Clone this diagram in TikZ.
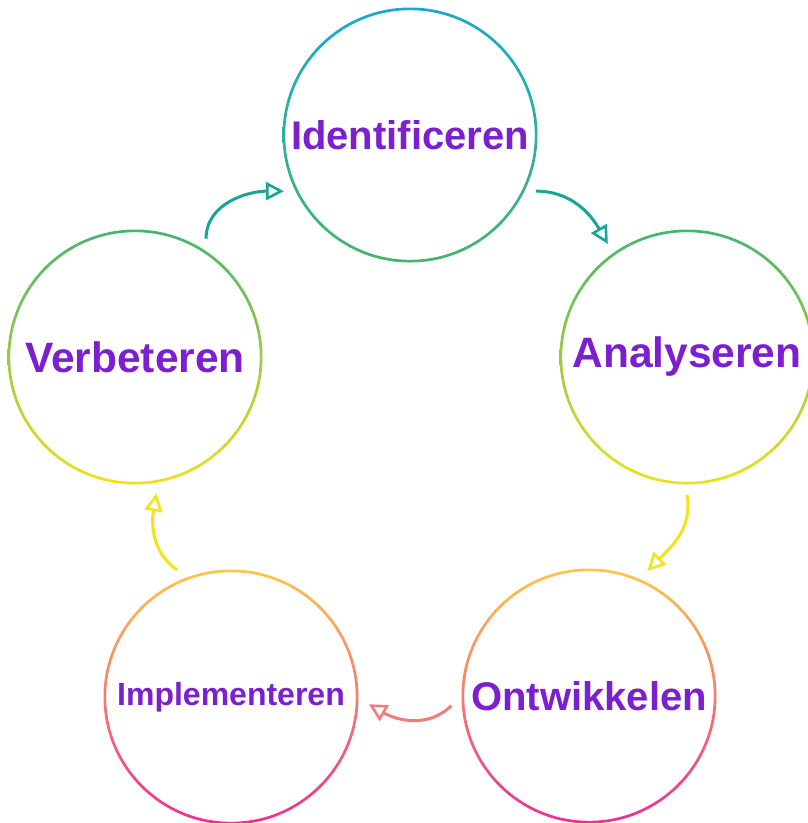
\documentclass[tikz,border=0pt]{standalone}
\usepackage{fontspec}
\setmainfont{Liberation Sans}
\usetikzlibrary{arrows.meta}
\definecolor{wordpurple}{HTML}{7B1FCF}
\definecolor{cyanring}{HTML}{1AA9CC}
\definecolor{greenring}{HTML}{45B56F}
\definecolor{yellowring}{HTML}{EEE11A}
\definecolor{orangering}{HTML}{FFC64A}
\definecolor{pinkring}{HTML}{EC2F95}
\definecolor{tealarrow}{HTML}{16A596}
\definecolor{yellowarrow}{HTML}{F2E416}
\definecolor{salmonarrow}{HTML}{F27B7E}
\begin{document}
\begin{tikzpicture}[x=1pt, y=-1pt]
    \tikzset{blob/.style={circle, minimum size=252pt, inner sep=0pt, outer sep=12pt,
        text=wordpurple, font=\bfseries\fontsize{40}{48}\selectfont}}
    \tikzset{cyclearrow/.style={line width=3pt, -{Triangle[open, length=18pt, width=18pt, line width=2.6pt]}}}
    \useasboundingbox (0,0) rectangle (808,823);
    % the five steps
    \node [blob] (ident) at (410,135) {Identificeren};
    \node [blob, font=\bfseries\fontsize{42.5}{50}\selectfont] (analys) at (687,357) {Analyseren};
    \node [blob] (ontw) at (589,696) {Ontwikkelen};
    \node [blob, font=\bfseries\fontsize{32}{38}\selectfont] (impl) at (231,697) {Implementeren};
    \node [blob, font=\bfseries\fontsize{42.5}{50}\selectfont] (verb) at (135,357) {Verbeteren};
    % rings
    \shade [top color=cyanring, bottom color=greenring, even odd rule]
        (ident.center) circle [radius=127.5pt] circle [radius=124.8pt];
    \shade [top color=greenring, bottom color=yellowring, even odd rule]
        (analys.center) circle [radius=127.5pt] circle [radius=124.8pt];
    \shade [top color=orangering, bottom color=pinkring, even odd rule]
        (ontw.center) circle [radius=127.5pt] circle [radius=124.8pt];
    \shade [top color=orangering, bottom color=pinkring, even odd rule]
        (impl.center) circle [radius=127.5pt] circle [radius=124.8pt];
    \shade [top color=greenring, bottom color=yellowring, even odd rule]
        (verb.center) circle [radius=127.5pt] circle [radius=124.8pt];
    % arrows
    \draw [cyclearrow, tealarrow] (verb.59) to [out=90, in=180] (ident.204);
    \draw [cyclearrow, tealarrow] (ident.-24) to [out=0, in=120] (analys.125);
    \draw [cyclearrow, yellowarrow] (analys.-90) to [out=-80, in=45] (ontw.65);
    \draw [cyclearrow, salmonarrow] (ontw.184) to [out=-135, in=-30] (impl.-3);
    \draw [cyclearrow, yellowarrow] (impl.113) to [out=145, in=-100] (verb.-81);
\end{tikzpicture}
\end{document}
